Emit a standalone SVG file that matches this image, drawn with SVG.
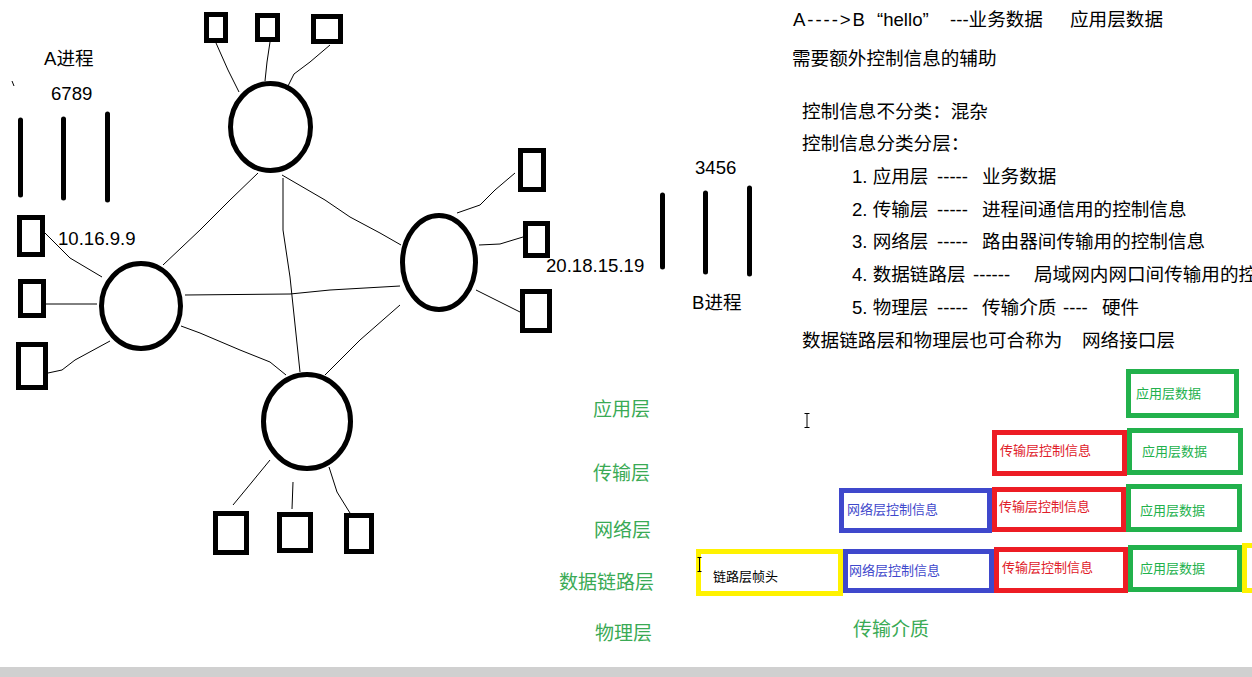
<svg xmlns="http://www.w3.org/2000/svg" width="1252" height="677" viewBox="0 0 1252 677">
<style>
.t{font-family:"Liberation Sans","Noto Sans CJK SC",sans-serif;font-size:18.6px;fill:#000}
.lbl{font-family:"Noto Sans CJK SC",sans-serif;font-size:19px;fill:#3aaa55;text-anchor:end}
.s{font-family:"Noto Sans CJK SC",sans-serif;font-size:13px}
.node{fill:none;stroke:#000;stroke-width:5}
.bar{stroke:#000;stroke-width:5;stroke-linecap:round}
.wire{fill:none;stroke:#000;stroke-width:1}
.bx{fill:#fff;stroke-width:5}
.g{stroke:#22b14c}.r{stroke:#ed1c24}.b{stroke:#3f48cc}.y{stroke:#fff200}
</style>
<rect width="1252" height="677" fill="#fff"/>

<g id="connectors">
<polyline class="wire" points="216,43 228,70 239,92"/>
<polyline class="wire" points="270,42 267,62 265,81"/>
<polyline class="wire" points="330,45 310,62 294,74 286,90"/>
<polyline class="wire" points="258,173 230,200 200,230 163,265"/>
<polyline class="wire" points="283,178 283,230 290,277 300,372"/>
<polyline class="wire" points="282,175 325,200 350,217 380,233 401,245"/>
<polyline class="wire" points="185,295 290,294 330,290 400,286"/>
<polyline class="wire" points="181,326 200,333 240,350 270,362 286,375"/>
<polyline class="wire" points="400,305 360,340 325,375"/>
<polyline class="wire" points="45,233 70,258 102,277"/>
<polyline class="wire" points="46,304 97,304"/>
<polyline class="wire" points="48,373 62,370 75,360 110,341"/>
<polyline class="wire" points="457,213 480,205 495,190 515,173"/>
<polyline class="wire" points="479,245 500,244 523,237"/>
<polyline class="wire" points="476,290 500,302 520,312"/>
<polyline class="wire" points="270,460 252,482 233,505"/>
<polyline class="wire" points="293,482 292,509"/>
<polyline class="wire" points="329,467 337,492 350,513"/>
<polyline class="wire" points="12,81 14,86"/>
</g>

<g id="circle-top"><ellipse class="node" cx="270.5" cy="127" rx="40" ry="43.5"/></g>
<g id="circle-left"><ellipse class="node" cx="141" cy="306" rx="39.5" ry="42.5"/></g>
<g id="circle-right"><ellipse class="node" cx="439" cy="262.5" rx="36.5" ry="47"/></g>
<g id="circle-bottom"><ellipse class="node" cx="307" cy="421.5" rx="43.5" ry="47"/></g>

<g id="hosts-top">
<rect class="node" x="206.5" y="14.5" width="19" height="26"/>
<rect class="node" x="257.5" y="15.5" width="20" height="24"/>
<rect class="node" x="313.5" y="16.5" width="27" height="25"/>
</g>
<g id="hosts-left">
<rect class="node" x="19.5" y="217.5" width="23" height="37"/>
<rect class="node" x="20.5" y="281.5" width="23" height="34"/>
<rect class="node" x="18.5" y="344.5" width="27" height="43"/>
</g>
<g id="hosts-right">
<rect class="node" x="520.5" y="150.5" width="23" height="39"/>
<rect class="node" x="525.5" y="223.5" width="22" height="32"/>
<rect class="node" x="522.5" y="291.5" width="27" height="39"/>
</g>
<g id="hosts-bottom">
<rect class="node" x="215.5" y="513.5" width="31" height="39"/>
<rect class="node" x="279.5" y="514.5" width="31" height="36"/>
<rect class="node" x="346.5" y="515.5" width="25" height="36"/>
</g>

<g id="process-a">
<line class="bar" x1="20.5" y1="120" x2="20.5" y2="195"/>
<line class="bar" x1="63.5" y1="119" x2="63.5" y2="198"/>
<line class="bar" x1="107.5" y1="114" x2="107.5" y2="200"/>
<text class="t" x="44" y="65">A进程</text>
<text class="t" x="51" y="100">6789</text>
<text class="t" x="58" y="245">10.16.9.9</text>
</g>
<g id="process-b">
<line class="bar" x1="662.5" y1="195" x2="662.5" y2="267"/>
<line class="bar" x1="705.5" y1="193" x2="705.5" y2="272"/>
<line class="bar" x1="749.5" y1="188" x2="749.5" y2="274"/>
<text class="t" x="695" y="174">3456</text>
<text class="t" x="546" y="272">20.18.15.19</text>
<text class="t" x="692" y="309">B进程</text>
</g>

<g id="notes">
<text class="t" y="26"><tspan x="793" textLength="72" lengthAdjust="spacing">A----&gt;B</tspan><tspan> </tspan><tspan x="877">“hello” </tspan><tspan x="950">---业务数据 </tspan><tspan x="1070">应用层数据</tspan></text>
<text class="t" x="792" y="65">需要额外控制信息的辅助</text>
<text class="t" x="802" y="118">控制信息不分类：混杂</text>
<text class="t" x="802" y="150">控制信息分类分层：</text>
<text class="t" y="183"><tspan x="852">1. 应用层 </tspan><tspan x="937">----- </tspan><tspan x="982">业务数据</tspan></text>
<text class="t" y="216"><tspan x="852">2. 传输层 </tspan><tspan x="937">----- </tspan><tspan x="982">进程间通信用的控制信息</tspan></text>
<text class="t" y="248"><tspan x="852">3. 网络层 </tspan><tspan x="937">----- </tspan><tspan x="982">路由器间传输用的控制信息</tspan></text>
<text class="t" y="281"><tspan x="852">4. 数据链路层 </tspan><tspan x="973">------ </tspan><tspan x="1034">局域网内网口间传输用的控</tspan></text>
<text class="t" y="314"><tspan x="852">5. 物理层 </tspan><tspan x="937">----- </tspan><tspan x="982">传输介质 </tspan><tspan x="1063">---- </tspan><tspan x="1102">硬件</tspan></text>
<text class="t" y="347"><tspan x="802">数据链路层和物理层也可合称为 </tspan><tspan x="1082">网络接口层</tspan></text>
</g>

<g id="layer-labels">
<text class="lbl" x="650" y="416">应用层</text>
<text class="lbl" x="650" y="480">传输层</text>
<text class="lbl" x="651" y="537">网络层</text>
<text class="lbl" x="654" y="589">数据链路层</text>
<text class="lbl" x="652" y="640">物理层</text>
<text class="lbl" x="929" y="636">传输介质</text>
</g>

<g id="row-app">
<rect class="bx g" x="1128.5" y="371.5" width="108" height="44"/>
<text class="s" x="1136" y="398" fill="#22b14c">应用层数据</text>
</g>
<g id="row-transport">
<rect class="bx r" x="994.5" y="432.5" width="130" height="41"/>
<text class="s" x="1000" y="455" fill="#e0202a">传输层控制信息</text>
<rect class="bx g" x="1129.5" y="430.5" width="111" height="42"/>
<text class="s" x="1142" y="456" fill="#22b14c">应用层数据</text>
</g>
<g id="row-network">
<rect class="bx b" x="841.5" y="490.5" width="148" height="40"/>
<text class="s" x="847" y="514" fill="#3f48cc">网络层控制信息</text>
<rect class="bx r" x="994.5" y="489.5" width="129" height="40"/>
<text class="s" x="999" y="511" fill="#e0202a">传输层控制信息</text>
<rect class="bx g" x="1128.5" y="486.5" width="111" height="43"/>
<text class="s" x="1140" y="515" fill="#22b14c">应用层数据</text>
</g>
<g id="row-link">
<rect class="bx y" x="698.5" y="551.5" width="142" height="42"/>
<text class="s" x="713" y="581" fill="#000">链路层帧头</text>
<rect class="bx b" x="845.5" y="551.5" width="146" height="39"/>
<text class="s" x="849" y="575" fill="#3f48cc">网络层控制信息</text>
<rect class="bx r" x="996.5" y="549.5" width="129" height="41"/>
<text class="s" x="1002" y="572" fill="#e0202a">传输层控制信息</text>
<rect class="bx g" x="1130.5" y="547.5" width="109" height="42"/>
<text class="s" x="1140" y="573" fill="#22b14c">应用层数据</text>
<rect class="bx y" x="1244.5" y="545.5" width="20" height="45"/>
</g>

<g id="cursors" stroke="#000" stroke-width="1" fill="none">
<path d="M804.5,413.5h5M807,413.5v14M804.5,427.5h5"/>
<path d="M697.5,557.5h4M699.5,557.5v14M697.5,571.5h4"/>
</g>

<rect x="0" y="667" width="1252" height="10" fill="#d0d0d0"/>
</svg>
